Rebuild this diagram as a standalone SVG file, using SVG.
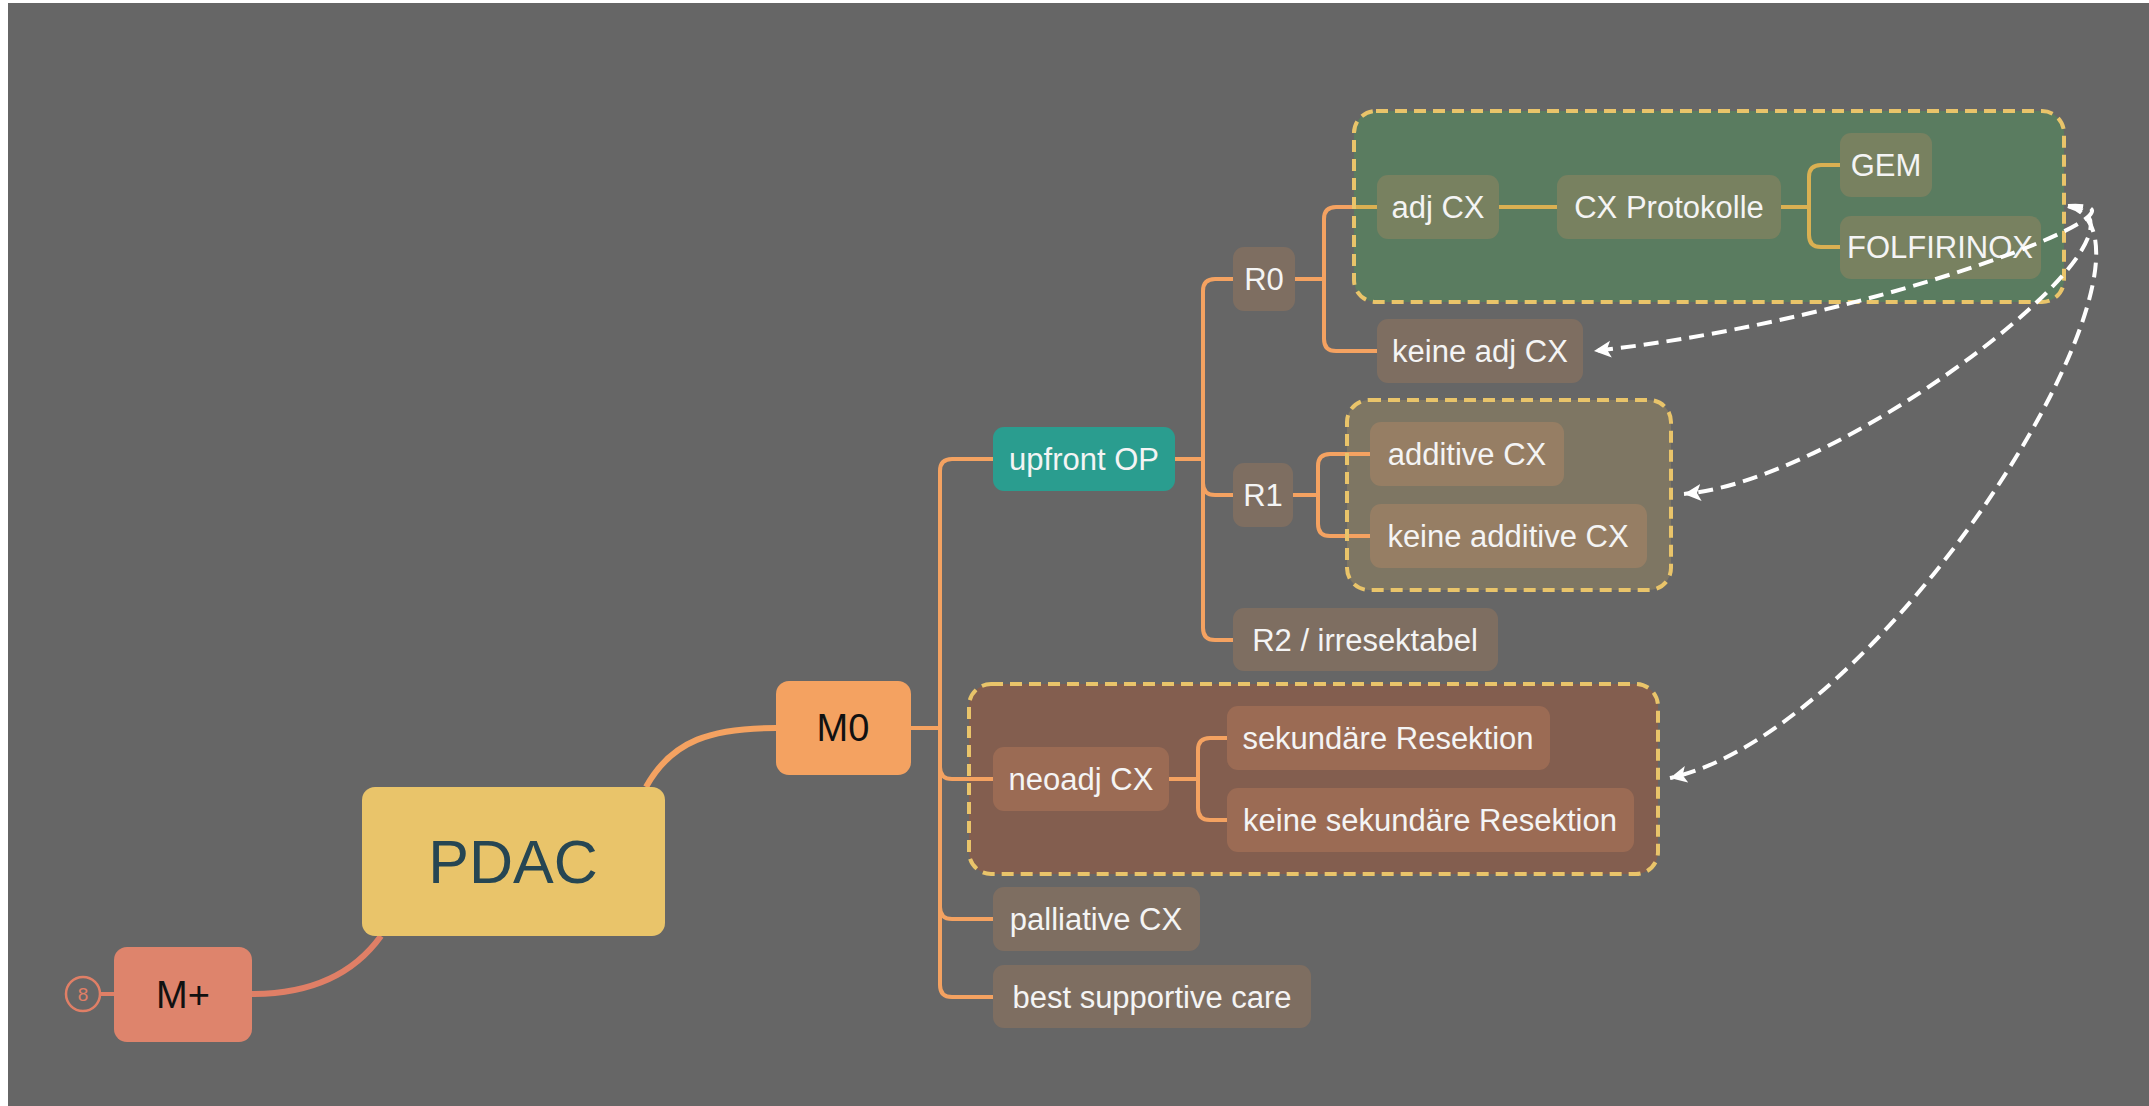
<svg xmlns="http://www.w3.org/2000/svg" width="2149" height="1106" viewBox="0 0 2149 1106">
<defs>
<style>
.bg{fill:#666666}
.t{font-family:"Liberation Sans",Arial,sans-serif;font-size:31px;fill:#f4f4f4;text-anchor:middle}
.tk{font-family:"Liberation Sans",Arial,sans-serif;font-size:38px;fill:#111111;text-anchor:middle}
.gray{fill:#7e6e61}
.olive{fill:#788160}
.tan{fill:#967e64}
.rust{fill:#9b6b54}
.grp{stroke:#e9c46a;stroke-width:4;stroke-dasharray:12 7}
.br{fill:none;stroke:#f4a261;stroke-width:4}
.gold{fill:none;stroke:#d9b052;stroke-width:4}
.rel{fill:none;stroke:#ffffff;stroke-width:4;stroke-dasharray:15 8}
</style>
<marker id="arr" viewBox="0 -9 18 18" refX="17" refY="0" markerWidth="18" markerHeight="18" markerUnits="userSpaceOnUse" orient="auto">
<path d="M0,-8.5 L17,0 L0,8.5 L4,0 Z" fill="#ffffff"/>
</marker>
</defs>
<rect x="0" y="0" width="2149" height="1106" fill="#ffffff"/>
<rect class="bg" x="8" y="3" width="2141" height="1103"/>

<!-- boundaries -->
<g id="boundary-adj">
<rect x="1354" y="111" width="710" height="191" rx="22" fill="#5a7c60"/>
</g>
<g id="boundary-r1">
<rect x="1347" y="400" width="324" height="190" rx="22" fill="#7e7663"/>
</g>
<g id="boundary-neo">
<rect x="969" y="684" width="689" height="190" rx="22" fill="#835e4f"/>
</g>

<!-- connectors -->
<g id="connectors">
<path d="M252,994 C320,994 358,968 381,936" fill="none" stroke="#e07f66" stroke-width="6"/>
<path d="M646,787 C672,740 712,728 776,728" fill="none" stroke="#f4a261" stroke-width="6"/>
<line x1="101" y1="994" x2="114" y2="994" stroke="#e07f66" stroke-width="4"/>
<path class="br" d="M911,728 H940 M940,471 V985 M940,471 Q940,459 952,459 H993 M940,767 Q940,779 952,779 H993 M940,907 Q940,919 952,919 H993 M940,985 Q940,997 952,997 H993"/>
<path class="br" d="M1175,459 H1203 M1203,291 V628 M1203,291 Q1203,279 1215,279 H1233 M1203,483 Q1203,495 1215,495 H1233 M1203,628 Q1203,640 1215,640 H1233"/>
<path class="br" d="M1295,279 H1324 M1324,219 V339 M1324,219 Q1324,207 1336,207 H1354 M1324,339 Q1324,351 1336,351 H1377"/>
<path class="br" d="M1293,495 H1318 M1318,466 V524 M1318,466 Q1318,454 1330,454 H1370 M1318,524 Q1318,536 1330,536 H1370"/>
<path class="br" d="M1169,779 H1198 M1198,750 V808 M1198,750 Q1198,738 1210,738 H1227 M1198,808 Q1198,820 1210,820 H1227"/>
<path class="gold" d="M1354,207 H1377 M1499,207 H1557 M1781,207 H1809 M1809,177 V235 M1809,177 Q1809,165 1821,165 H1840 M1809,235 Q1809,247 1821,247 H1840"/>
</g>

<!-- boundary borders -->
<g id="boundary-borders">
<rect class="grp" x="1354" y="111" width="710" height="191" rx="22" fill="none"/>
<rect class="grp" x="1347" y="400" width="324" height="190" rx="22" fill="none"/>
<rect class="grp" x="969" y="684" width="689" height="190" rx="22" fill="none"/>
</g>

<!-- nodes -->
<g id="n-mplus">
<circle cx="83" cy="994" r="17" fill="none" stroke="#e07f66" stroke-width="2.5"/>
<text x="83" y="1001" font-family="Liberation Sans, Arial, sans-serif" font-size="19" fill="#e07f66" text-anchor="middle">8</text>
<rect x="114" y="947" width="138" height="95" rx="13" fill="#de846c"/>
<text class="tk" x="183" y="1008">M+</text>
</g>
<g id="n-pdac">
<rect x="362" y="787" width="303" height="149" rx="13" fill="#e9c46a"/>
<text x="513" y="883" font-family="Liberation Sans, Arial, sans-serif" font-size="61" fill="#264653" text-anchor="middle">PDAC</text>
</g>
<g id="n-m0">
<rect x="776" y="681" width="135" height="94" rx="13" fill="#f4a261"/>
<text class="tk" x="843" y="741">M0</text>
</g>
<g id="n-upfront">
<rect x="993" y="427" width="182" height="64" rx="11" fill="#2a9d8f"/>
<text class="t" x="1084" y="470">upfront OP</text>
</g>
<g id="n-r0">
<rect class="gray" x="1233" y="247" width="62" height="64" rx="11"/>
<text class="t" x="1264" y="290">R0</text>
</g>
<g id="n-r1">
<rect class="gray" x="1233" y="463" width="60" height="64" rx="11"/>
<text class="t" x="1263" y="506">R1</text>
</g>
<g id="n-r2">
<rect class="gray" x="1233" y="608" width="265" height="63" rx="11"/>
<text class="t" x="1365" y="651">R2 / irresektabel</text>
</g>
<g id="n-adjcx">
<rect class="olive" x="1377" y="175" width="122" height="64" rx="11"/>
<text class="t" x="1438" y="218">adj CX</text>
</g>
<g id="n-cxprot">
<rect class="olive" x="1557" y="175" width="224" height="64" rx="11"/>
<text class="t" x="1669" y="218">CX Protokolle</text>
</g>
<g id="n-gem">
<rect class="olive" x="1840" y="133" width="92" height="64" rx="11"/>
<text class="t" x="1886" y="176">GEM</text>
</g>
<g id="n-folfirinox">
<rect class="olive" x="1840" y="216" width="201" height="63" rx="11"/>
<text class="t" x="1940" y="258">FOLFIRINOX</text>
</g>
<g id="n-keineadj">
<rect class="gray" x="1377" y="319" width="206" height="64" rx="11"/>
<text class="t" x="1480" y="362">keine adj CX</text>
</g>
<g id="n-additive">
<rect class="tan" x="1370" y="422" width="194" height="64" rx="11"/>
<text class="t" x="1467" y="465">additive CX</text>
</g>
<g id="n-keineadditive">
<rect class="tan" x="1370" y="504" width="277" height="64" rx="11"/>
<text class="t" x="1508" y="547">keine additive CX</text>
</g>
<g id="n-neoadj">
<rect class="rust" x="993" y="747" width="176" height="64" rx="11"/>
<text class="t" x="1081" y="790">neoadj CX</text>
</g>
<g id="n-sekres">
<rect class="rust" x="1227" y="706" width="323" height="64" rx="11"/>
<text class="t" x="1388" y="749">sekundäre Resektion</text>
</g>
<g id="n-keinesekres">
<rect class="rust" x="1227" y="788" width="407" height="64" rx="11"/>
<text class="t" x="1430" y="831">keine sekundäre Resektion</text>
</g>
<g id="n-palliative">
<rect class="gray" x="993" y="887" width="207" height="64" rx="11"/>
<text class="t" x="1096" y="930">palliative CX</text>
</g>
<g id="n-bsc">
<rect class="gray" x="993" y="965" width="318" height="63" rx="11"/>
<text class="t" x="1152" y="1008">best supportive care</text>
</g>

<!-- relationships -->
<g id="relationships">
<path class="rel" d="M2068,206 C2180,200 1880,320 1594,351" marker-end="url(#arr)"/>
<path class="rel" d="M2068,206 C2180,220 1850,480 1684,494" marker-end="url(#arr)"/>
<path class="rel" d="M2068,206 C2190,240 1890,730 1670,778" marker-end="url(#arr)"/>
</g>
</svg>
